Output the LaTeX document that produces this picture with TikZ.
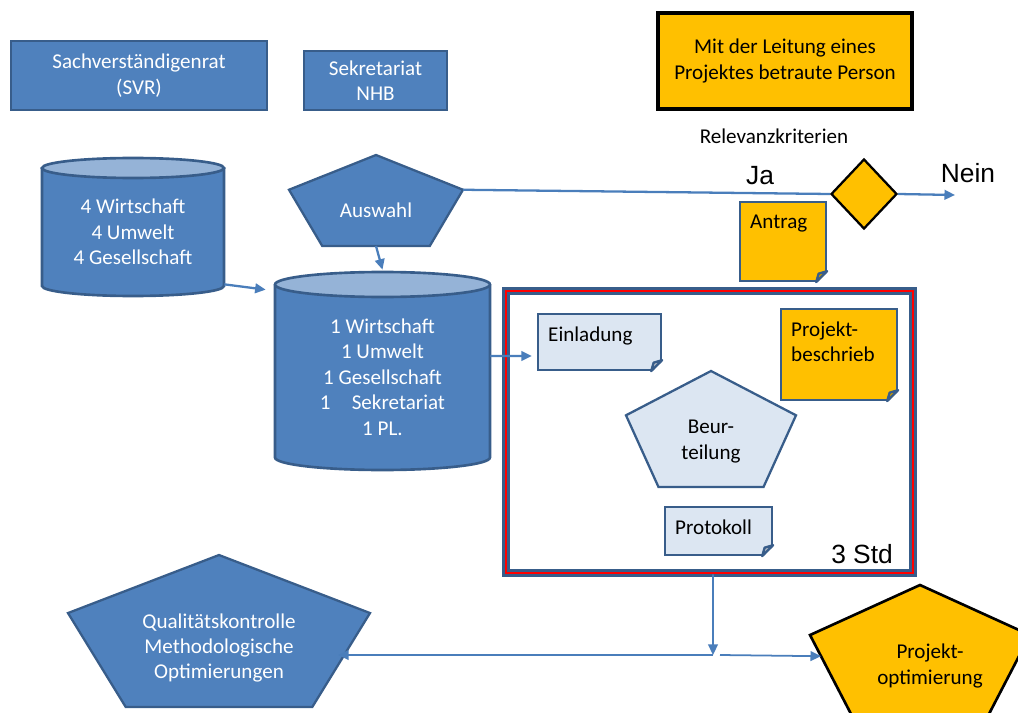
\documentclass[tikz,border=0pt]{standalone}
\usepackage{fontspec}
\setmainfont{Carlito}
\newfontfamily\arialfont{Liberation Sans}
\usetikzlibrary{arrows.meta,calc,positioning,shapes.geometric}

\definecolor{nhbblue}{RGB}{79,129,189}
\definecolor{nhbline}{RGB}{56,93,138}
\definecolor{nhbtop}{RGB}{149,179,215}
\definecolor{nhblight}{RGB}{220,230,242}
\definecolor{nhborange}{RGB}{255,192,0}
\definecolor{nhbarrow}{RGB}{74,126,187}

% folded corner of a note node: #1 node, #2 fill
\newcommand\fold[2]{%
  \fill[white] ([shift={(-0.26cm,-0.07cm)}]#1.south east) -- ([shift={(0.07cm,-0.07cm)}]#1.south east)
    -- ([shift={(0.07cm,0.26cm)}]#1.south east) -- cycle;
  \draw[notebox,fill=#2!80!black,line join=round] ([xshift=-0.22cm]#1.south east) -- ([yshift=0.22cm]#1.south east)
    -- ([shift={(-0.17cm,0.17cm)}]#1.south east) -- cycle;
}

\begin{document}
\begin{tikzpicture}[x=0.02cm,y=-0.02cm,>={Triangle[length=6pt,width=5.5pt]},
  every node/.style={font=\fontsize{12}{14.5}\selectfont},
  bluebox/.style={draw=nhbline,fill=nhbblue,line width=1.5pt,text=white,align=center,inner sep=0},
  pent/.style={regular polygon,regular polygon sides=5,minimum size=2cm,inner sep=0,outer sep=0,transform shape,line width=1.3pt},
  cyl/.style={draw=nhbline,line width=1.5pt},
  notebox/.style={draw=nhbline,line width=1.3pt,inner sep=0},
  notetext/.style={anchor=north west,inner sep=0,xshift=0.22cm,yshift=-0.27cm,align=left},
  conn/.style={draw=nhbarrow,line width=1.3pt,->},
  bigtext/.style={font=\arialfont\fontsize{15}{18}\selectfont}]
\useasboundingbox (0,0) rectangle (1018,713);

% top row
\node[bluebox,minimum width=5.12cm,minimum height=1.38cm] (svr) at (139,75.5) {Sachverständigenrat\\(SVR)};
\node[bluebox,minimum width=2.86cm,minimum height=1.18cm] (sek) at (375.5,80.5) {Sekretariat\\NHB};
\node[draw=black,fill=nhborange,line width=2pt,align=center,minimum width=5.08cm,minimum height=1.92cm] (lead) at (785,61) {Mit der Leitung eines\\Projektes betraute Person};
\node (relev) at (774,136) {Relevanzkriterien};

% cylinders
\draw[cyl,fill=nhbblue] (42,168) -- (42,286) arc[start angle=180,end angle=360,x radius=1.82cm,y radius=0.2cm] -- (224,168);
\draw[cyl,fill=nhbtop] (133,168) ellipse[x radius=1.82cm,y radius=0.2cm];
\node[text=white,align=center,minimum width=3.64cm,minimum height=2.76cm] (pool) at (133,232) {4 Wirtschaft\\4 Umwelt\\4 Gesellschaft};

\draw[cyl,fill=nhbblue] (275,284.5) -- (275,457.5) arc[start angle=180,end angle=360,x radius=2.15cm,y radius=0.25cm] -- (490,284.5);
\draw[cyl,fill=nhbtop] (382.5,284.5) ellipse[x radius=2.15cm,y radius=0.25cm];
\node[text=white,align=center,minimum width=4.3cm,minimum height=3.96cm] (panel) at (382.5,377) {1 Wirtschaft\\1 Umwelt\\1 Gesellschaft\\1\quad Sekretariat\\1 PL.};

% selection
\node[pent,draw=nhbline,fill=nhbblue,xscale=1.83,yscale=1.006] (ausw) at (376,205.3) {};
\node[text=white] (auswtext) at (376,210) {Auswahl};
\node[diamond,draw=black,fill=nhborange,line width=1.3pt,inner sep=0,minimum width=1.32cm,minimum height=1.4cm] (crit) at (864,194) {};
\coordinate (nein) at (955,195);
\node[bigtext] (ja) at (760,176) {Ja};
\node[bigtext] (neintext) at (968,173) {Nein};

\node[notebox,fill=nhborange,minimum width=1.72cm,minimum height=1.58cm,label={[notetext]north west:Antrag}] (antrag) at (783,241.5) {};
\fold{antrag}{nhborange}

% meeting
\node[draw=nhbline,double=red,double distance=1.2pt,line width=1.6pt,minimum width=8.14cm,minimum height=5.64cm] (meet) at (709.5,432) {};
\node[notebox,fill=nhblight,minimum width=2.46cm,minimum height=1.12cm,label={[notetext]north west:Einladung}] (einl) at (599.5,342) {};
\fold{einl}{nhblight}
\node[notebox,fill=nhborange,minimum width=2.32cm,minimum height=1.82cm,label={[notetext]north west:Projekt-\\beschrieb}] (besch) at (839,354.5) {};
\fold{besch}{nhborange}
\node[pent,draw=nhbline,fill=nhblight,xscale=1.788,yscale=1.282] (beurt) at (711,435.1) {};
\node[align=center] (beurttext) at (711,441.5) {Beur-\\teilung};
\node[notebox,fill=nhblight,minimum width=2.14cm,minimum height=0.96cm,label={[notetext]north west:Protokoll}] (prot) at (718.5,531) {};
\fold{prot}{nhblight}
\node[bigtext,anchor=base east] (std) at (899,563) {3 Std};

% results
\node[pent,draw=nhbline,fill=nhbblue,xscale=3.176,yscale=1.68] (qual) at (219,639) {};
\node[text=white,align=center] (qualtext) at (219,648) {Qualitätskontrolle\\Methodologische\\Optimierungen};
\node[pent,draw=black,line width=1.5pt,fill=nhborange,xscale=2.313,yscale=1.448] (opt) at (920,657.4) {};
\node[align=center] (opttext) at (930,666) {Projekt-\\optimierung};
\coordinate (split) at (713,655);

% connectors
\draw[conn] ([yshift=0.34cm]pool.south east) -- ([shift={(-0.18cm,-0.24cm)}]panel.north west);
\draw[conn] (ausw.south) -- ([yshift=0.16cm]panel.north);
\draw[conn,-] (ausw.corner 5) -- (crit.west);
\draw[conn] (crit.east) -- (nein);
\draw[conn] ([yshift=0.42cm]panel.east) -- ([shift={(-0.1cm,-0.28cm)}]einl.west);
\draw[conn,line width=1pt] ([xshift=0.07cm]meet.south) -- (split);
\draw[conn,line width=1pt] (split) -- ([xshift=-0.32cm]qual.east |- split);
\draw[conn,line width=1pt] ([xshift=0.14cm]split) -- (opt);
\end{tikzpicture}
\end{document}
